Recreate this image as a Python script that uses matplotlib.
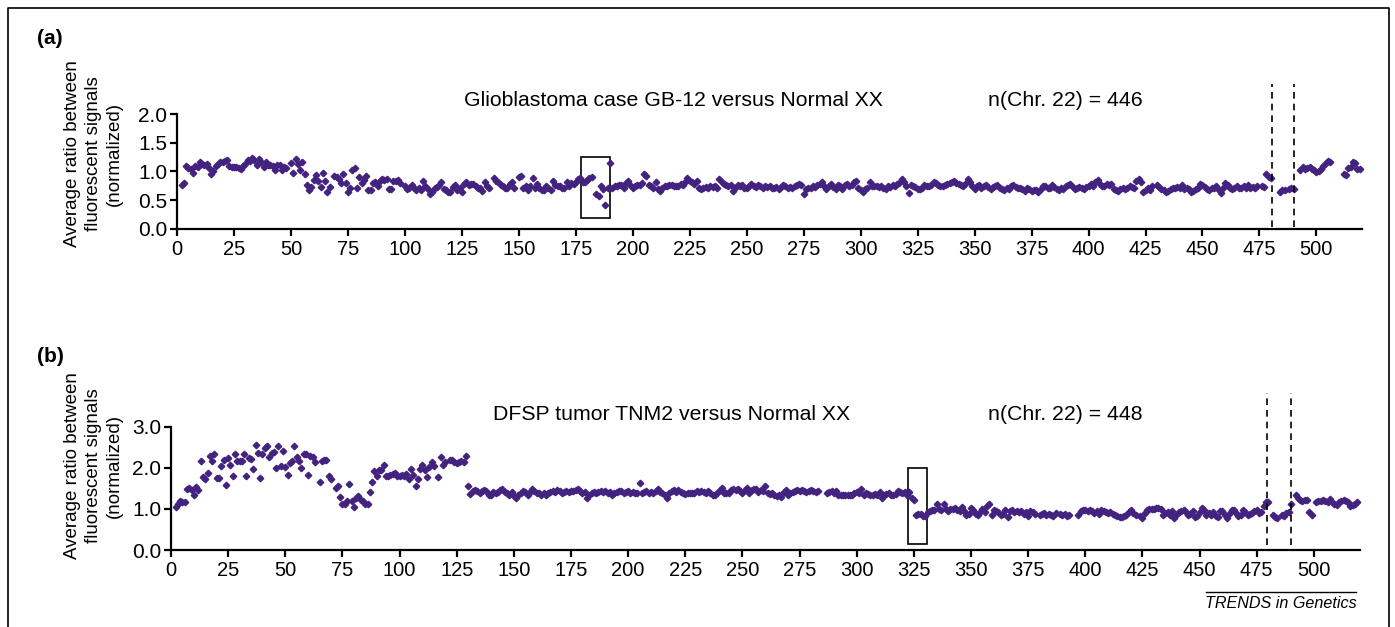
import numpy as np
import matplotlib
matplotlib.use("Agg")
import matplotlib.pyplot as plt
from matplotlib.lines import Line2D
from matplotlib.patches import Rectangle

plt.rcParams.update({
    "font.family": "Liberation Sans",
    "font.size": 14,
})

DOT = "#43237f"

# ---- panel (a): Glioblastoma GB-12, clone positions start at 2, None = no clone
A_START = 2
a_y = [
    0.77, 0.80, 1.10, 1.06, 1.05, 0.98, 1.09, 1.08, 1.16, 1.13,
    1.12, 1.13, 1.06, 0.96, 1.00, 1.09, 1.13, 1.16, 1.17, 1.18,
    1.20, 1.09, 1.08, 1.08, 1.08, 1.06, 1.05, 1.09, 1.13, 1.20,
    1.19, 1.23, 1.20, 1.12, 1.21, 1.16, 1.08, 1.16, 1.11, 1.12,
    1.10, 1.02, 1.12, 1.11, 1.02, 1.08, 1.06, None, 1.15, 0.98,
    1.21, 1.13, 1.03, 1.16, 0.96, 0.76, 0.67, 0.73, 0.85, 0.94,
    0.83, 0.73, 0.98, 0.83, 0.64, 0.73, None, 0.93, 0.90, 0.87,
    0.80, 0.96, 0.80, 0.65, 0.71, 1.02, 1.06, 0.71, 0.90, 0.80,
    0.85, 0.93, 0.68, 0.67, 0.80, 0.82, 0.74, 0.84, 0.87, 0.85,
    0.87, 0.70, 0.69, 0.83, 0.83, 0.85, 0.80, None, 0.74, 0.69,
    0.71, 0.77, 0.72, 0.67, 0.72, 0.67, 0.84, 0.75, 0.69, 0.61,
    0.65, 0.71, 0.73, 0.77, 0.81, 0.70, 0.68, 0.65, 0.64, 0.73,
    0.77, 0.67, 0.72, 0.65, 0.78, 0.81, 0.77, 0.78, 0.78, 0.74,
    0.71, 0.72, 0.66, 0.82, 0.74, 0.72, None, 0.89, 0.84, 0.81,
    0.77, 0.75, 0.71, 0.72, 0.78, 0.81, 0.71, None, 0.91, 0.93,
    0.71, 0.74, 0.68, 0.74, 0.89, 0.72, 0.78, 0.72, 0.68, 0.67,
    0.75, 0.71, 0.68, 0.84, 0.77, 0.75, 0.75, 0.72, 0.72, 0.82,
    0.75, 0.80, 0.78, 0.82, 0.87, 0.89, 0.82, 0.82, 0.85, 0.88,
    0.91, None, 0.60, 0.58, 0.74, 0.70, 0.42, 0.71, 1.14, 0.72,
    0.75, 0.74, 0.77, 0.76, 0.72, 0.80, 0.84, 0.76, 0.71, 0.74,
    0.77, 0.76, 0.80, 0.95, 0.93, 0.76, 0.74, 0.72, 0.82, 0.70,
    0.66, 0.72, 0.74, 0.75, 0.77, 0.76, 0.74, 0.75, 0.74, 0.78,
    0.77, 0.81, 0.88, 0.84, 0.81, 0.78, 0.84, 0.71, 0.69, 0.72,
    0.73, 0.72, 0.74, 0.73, 0.74, 0.72, 0.87, 0.82, 0.78, 0.77,
    0.75, 0.76, 0.66, 0.72, 0.76, 0.74, 0.76, 0.72, 0.71, 0.75,
    0.78, 0.74, 0.73, 0.76, 0.75, 0.72, 0.75, 0.73, 0.74, 0.72,
    0.71, 0.73, 0.70, 0.73, 0.76, 0.74, 0.72, 0.73, 0.71, 0.75,
    0.77, 0.79, 0.76, 0.60, 0.70, 0.72, 0.71, 0.74, 0.73, 0.76,
    0.78, 0.81, 0.74, 0.70, 0.75, 0.79, 0.73, 0.70, 0.77, 0.74,
    0.70, 0.76, 0.79, 0.74, 0.77, 0.81, 0.84, 0.72, 0.67, 0.65,
    0.69, 0.72, 0.81, 0.75, 0.74, 0.75, 0.73, 0.75, 0.72, 0.69,
    0.74, 0.73, 0.76, 0.75, 0.78, 0.80, 0.87, 0.82, 0.75, 0.62,
    0.77, 0.74, 0.73, 0.70, 0.69, 0.72, 0.76, 0.74, 0.75, 0.77,
    0.82, 0.80, 0.76, 0.74, 0.75, 0.77, 0.78, 0.80, 0.81, 0.84,
    0.80, 0.78, 0.76, 0.74, 0.78, 0.87, 0.82, 0.74, 0.70, 0.74,
    0.76, 0.72, 0.75, 0.77, 0.73, 0.70, 0.73, 0.75, 0.76, 0.72,
    0.70, 0.68, 0.71, 0.70, 0.74, 0.76, 0.73, 0.72, 0.71, 0.69,
    0.66, 0.72, 0.70, 0.66, 0.68, 0.67, 0.65, 0.69, 0.74, 0.75,
    0.72, 0.71, 0.76, 0.73, 0.70, 0.68, 0.72, 0.70, 0.74, 0.77,
    0.78, 0.73, 0.69, 0.71, 0.73, 0.72, 0.69, 0.73, 0.75, 0.78,
    0.74, 0.82, 0.85, 0.78, 0.75, 0.75, 0.79, 0.77, 0.79, 0.69,
    0.68, 0.66, 0.70, 0.72, 0.69, 0.72, 0.75, 0.73, 0.72, 0.84,
    0.87, 0.82, 0.64, 0.68, 0.72, 0.68, 0.75, None, 0.76, 0.73,
    0.70, 0.68, 0.64, 0.66, 0.70, 0.71, 0.72, 0.73, 0.72, 0.76,
    0.69, 0.72, 0.70, 0.64, 0.66, 0.70, 0.72, 0.79, 0.76, 0.73,
    0.70, 0.68, 0.72, 0.71, 0.74, 0.70, 0.62, 0.72, 0.80, 0.77,
    0.72, 0.69, 0.72, 0.74, 0.71, 0.72, 0.74, 0.72, 0.76, 0.72,
    0.73, 0.72, 0.74, None, 0.74, 0.73, 0.95, 0.91, 0.88, None,
    None, None, 0.64, 0.67, 0.68, None, 0.70, 0.71, 0.69, None,
    None, 1.03, 1.07, 1.04, 1.06, 1.08, 1.05, 1.03, 0.99, 1.00,
    1.04, 1.10, 1.14, 1.19, 1.17, None, None, None, None, None,
    0.95, 0.94, 1.06, 1.08, 1.17, 1.15, 1.04, 1.04,
]

# ---- panel (b): DFSP tumor TNM2
B_START = 2
b_y = [
    1.05, 1.11, 1.19, 1.17, 1.17, 1.49, 1.51, 1.46, 1.35, 1.54,
    1.46, 2.16, 1.78, 1.73, 1.89, 2.30, 2.16, 2.33, 1.76, 1.76,
    2.06, 2.19, 1.59, 2.24, 2.08, 1.81, 2.33, 2.16, 2.16, 2.18,
    2.33, 1.80, 2.24, 2.22, 1.98, 2.57, 2.37, 1.76, 2.33, 2.49,
    2.53, 2.27, 2.37, 2.38, 2.00, 2.53, 2.06, 2.41, 2.02, 1.84,
    2.12, 2.16, 2.54, 2.28, 2.16, 2.00, 2.33, 2.35, 1.84, 2.30,
    2.28, 2.14, None, 1.65, 2.16, 2.19, 2.20, 1.81, 1.72, None,
    1.51, 1.57, 1.29, 1.11, 1.11, 1.19, 1.62, 1.19, 1.05, 1.27,
    1.31, 1.23, 1.19, 1.13, 1.11, 1.41, 1.65, 1.92, 1.80, 1.96,
    1.94, 2.08, 1.80, 1.81, 1.84, 1.86, 1.89, 1.80, 1.81, 1.84,
    1.81, 1.86, 1.73, 1.98, 1.84, 1.57, 1.73, 1.98, 2.08, 1.94,
    1.78, 2.02, 2.14, 2.04, None, 1.78, 2.27, 2.08, 2.14, None,
    2.20, 2.19, 2.14, 2.11, 2.14, 2.16, 2.14, 2.30, 1.55, 1.37,
    1.43, 1.46, 1.44, 1.39, 1.43, 1.46, 1.45, 1.33, 1.35, 1.41,
    1.40, 1.41, 1.46, 1.49, 1.41, 1.38, 1.35, 1.41, 1.31, 1.27,
    1.35, 1.39, 1.43, 1.41, 1.33, 1.41, 1.49, 1.43, 1.39, 1.38,
    1.35, 1.39, 1.33, 1.38, 1.41, 1.43, 1.41, 1.46, 1.43, 1.39,
    1.41, 1.43, 1.41, 1.43, 1.44, 1.46, 1.49, 1.43, 1.39, 1.41,
    1.27, 1.35, 1.39, 1.41, 1.38, 1.41, 1.43, 1.41, 1.43, 1.39,
    1.41, 1.35, 1.39, 1.41, 1.43, 1.44, 1.39, 1.41, 1.43, 1.38,
    1.41, 1.39, 1.40, 1.63, 1.39, 1.41, 1.43, 1.38, 1.41, 1.39,
    1.43, 1.49, 1.41, 1.38, 1.33, 1.27, 1.39, 1.43, 1.46, 1.41,
    1.47, 1.41, 1.38, 1.36, 1.38, 1.39, 1.38, 1.39, 1.43, 1.41,
    1.43, 1.41, 1.38, 1.43, 1.39, 1.35, 1.33, 1.39, 1.46, 1.51,
    1.39, 1.38, 1.38, 1.46, 1.49, 1.47, 1.49, 1.43, 1.39, 1.46,
    1.51, 1.39, 1.46, 1.49, 1.48, 1.41, 1.46, 1.45, 1.55, 1.39,
    1.36, 1.39, 1.33, 1.31, 1.35, 1.29, 1.41, 1.46, 1.35, 1.39,
    1.41, 1.43, 1.46, 1.43, 1.46, 1.44, 1.41, 1.43, 1.46, 1.43,
    1.41, 1.43, None, None, None, 1.39, 1.41, 1.43, 1.39, 1.43,
    1.35, 1.33, 1.35, 1.33, 1.35, 1.33, 1.35, 1.39, 1.41, 1.38,
    1.50, 1.35, 1.38, 1.37, 1.35, 1.35, 1.37, 1.33, 1.41, 1.27,
    1.33, 1.37, 1.38, 1.35, 1.33, 1.37, 1.43, 1.41, 1.39, 1.41,
    1.35, 1.41, 1.27, 1.23, 0.86, 0.89, 0.89, 0.82, 0.82, 0.92,
    0.94, 0.97, 0.97, 1.11, 0.99, 0.97, 1.11, 0.99, 0.94, 0.99,
    0.99, 1.02, 0.97, 0.94, 1.05, 0.94, 0.86, 0.89, 1.02, 0.97,
    0.89, 0.86, 0.92, 1.00, 0.92, 1.08, 1.11, 0.86, 0.97, 0.94,
    0.92, 0.86, 0.89, 0.97, 0.80, 0.94, 0.97, 0.92, 0.94, 0.92,
    0.94, 0.89, 0.92, 0.84, 0.94, 0.92, 0.89, None, 0.86, 0.89,
    0.90, 0.86, 0.88, 0.86, 0.84, 0.90, None, 0.88, 0.86, 0.88,
    0.84, 0.86, None, None, None, 0.86, 0.94, 0.97, 0.98, 0.94,
    0.98, 0.94, 0.90, 0.94, 0.89, 0.97, 0.94, 0.92, 0.90, 0.92,
    0.89, 0.86, 0.84, 0.80, 0.80, 0.84, 0.86, 0.92, 0.97, 0.90,
    0.86, None, 0.84, 0.78, 0.90, 0.97, 0.99, 1.00, 1.00, 1.02,
    1.02, 1.00, 0.86, 0.90, 0.92, 0.86, 0.94, 0.78, 0.88, 0.92,
    0.94, 0.97, 0.92, 0.86, 0.88, 0.94, 0.80, 0.84, 0.92, 1.02,
    0.97, 0.86, 0.90, 0.86, 0.92, 0.84, 0.80, 0.94, 0.94, 0.86,
    0.78, 0.88, 0.97, 0.98, 0.90, 0.84, 0.86, 0.97, 0.92, 0.86,
    0.88, 0.90, 0.94, 0.97, 0.90, 0.92, 1.08, 1.16, 1.16, None,
    0.86, 0.80, 0.78, None, 0.86, 0.84, 0.90, 0.92, 1.11, None,
    1.33, 1.28, 1.21, 1.19, 1.23, 1.21, 0.92, 0.86, None, 1.16,
    1.19, 1.19, 1.21, 1.19, 1.17, 1.24, 1.16, 1.13, 1.10, 1.17,
    1.20, 1.21, 1.19, 1.16, 1.08, 1.10, 1.13, 1.16,
]

X_TICKS = list(range(0, 501, 25))
A_YTICKS = [0.0, 0.5, 1.0, 1.5, 2.0]
B_YTICKS = [0.0, 1.0, 2.0, 3.0]

# highlighted region (box) and the two breakpoints for each panel
A_BOX = (177.4, 190.2, 0.19, 1.25)
B_BOX = (322.3, 330.6, 0.15, 2.00)
A_DASH = [480.4, 490.0]
B_DASH = [479.4, 489.9]

YLABEL = "Average ratio between\nfluorescent signals\n(normalized)"


def to_xy(start, ys):
    x = [start + i for i, v in enumerate(ys) if v is not None]
    y = [v for v in ys if v is not None]
    return np.array(x), np.array(y)


def style_axes(ax, yticks, ymax):
    ax.set_xlim(0, 520)
    ax.set_ylim(0, ymax)
    for s in ("top", "right"):
        ax.spines[s].set_visible(False)
    for s in ("left", "bottom"):
        ax.spines[s].set_linewidth(1.6)
    ax.set_xticks(X_TICKS)
    ax.set_xticklabels([str(t) for t in X_TICKS])
    ax.set_yticks(yticks)
    ax.set_yticklabels([f"{t:.1f}" for t in yticks])
    ax.tick_params(direction="out", length=5, width=1.6, labelsize=14.5, pad=3)
    ax.tick_params(axis="y", labelsize=15, pad=2)
    ax.patch.set_visible(False)


fig = plt.figure(figsize=(13.95, 6.27), dpi=100)
W, H = 1395.0, 627.0

# ---- panel (a)
ax1 = fig.add_axes([177 / W, 1 - 229 / H, (1362 - 177) / W, 115 / H])
xa, ya = to_xy(A_START, a_y)
ax1.plot(xa, ya, ls="none", marker="D", ms=3.3, color=DOT, mec=DOT, clip_on=False)
style_axes(ax1, A_YTICKS, 2.0)
x0, x1, y0, y1 = A_BOX
ax1.add_patch(Rectangle((x0, y0), x1 - x0, y1 - y0, fill=False, lw=1.2, ec="black"))
for xd in A_DASH:
    ax1.plot([xd, xd], [0.03, 2.52], ls=(0, (4, 3)), lw=1.2, color="black", clip_on=False)

# ---- panel (b)
ax2 = fig.add_axes([171 / W, 1 - 550 / H, (1359.5 - 171) / W, 123 / H])
xb, yb = to_xy(B_START, b_y)
ax2.plot(xb, yb, ls="none", marker="D", ms=3.3, color=DOT, mec=DOT, clip_on=False)
style_axes(ax2, B_YTICKS, 3.0)
x0, x1, y0, y1 = B_BOX
ax2.add_patch(Rectangle((x0, y0), x1 - x0, y1 - y0, fill=False, lw=1.2, ec="black"))
for xd in B_DASH:
    ax2.plot([xd, xd], [0.12, 3.83], ls=(0, (4, 3)), lw=1.2, color="black", clip_on=False)

# ---- texts
fig.text(37 / W, 1 - 38 / H, "(a)", fontsize=15, fontweight="bold", va="center")
fig.text(37 / W, 1 - 357 / H, "(b)", fontsize=15, fontweight="bold", va="center")

fig.text(93 / W, 1 - 154 / H, YLABEL, rotation=90, ha="center", va="center",
         multialignment="center", fontsize=13.5, linespacing=1.3)
fig.text(93 / W, 1 - 466 / H, YLABEL, rotation=90, ha="center", va="center",
         multialignment="center", fontsize=13.5, linespacing=1.3)

fig.text(673 / W, 1 - 101 / H, "Glioblastoma case GB-12 versus Normal XX",
         ha="center", va="center", fontsize=15.3)
fig.text(1065 / W, 1 - 101 / H, "n(Chr. 22) = 446", ha="center", va="center", fontsize=15.3)
fig.text(672 / W, 1 - 415 / H, "DFSP tumor TNM2 versus Normal XX",
         ha="center", va="center", fontsize=15.3)
fig.text(1065 / W, 1 - 415 / H, "n(Chr. 22) = 448", ha="center", va="center", fontsize=15.3)

fig.text(1281 / W, 1 - 604 / H, "TRENDS in Genetics", ha="center", va="center",
         fontsize=11.6, style="italic")
fig.add_artist(Line2D([1206 / W, 1356 / W], [1 - 592 / H, 1 - 592 / H],
                      lw=1.0, color="black"))

# frame round the figure (open at the bottom)
fx0, fx1, fy1 = 7.5 / W, 1388.5 / W, 1 - 7.5 / H
fig.add_artist(Line2D([fx0, fx0, fx1, fx1], [0, fy1, fy1, 0], lw=1.2, color="black"))

fig.savefig("out.png", dpi=100)
